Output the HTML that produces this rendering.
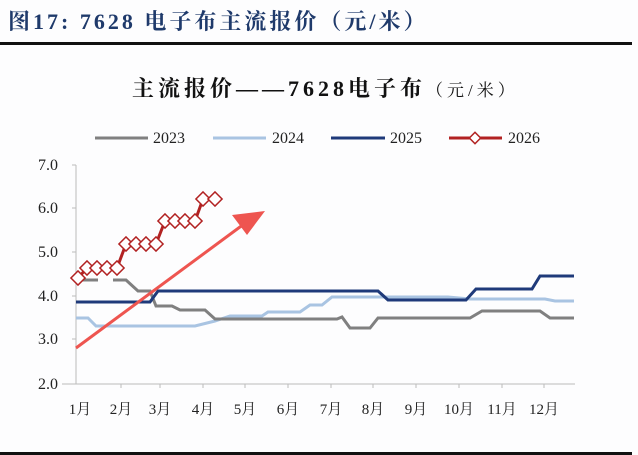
<!DOCTYPE html>
<html><head><meta charset="utf-8"><style>
body{margin:0;background:#fff;}
svg{display:block;}
</style></head><body>
<svg width="638" height="455" viewBox="0 0 638 455" xmlns="http://www.w3.org/2000/svg">
<rect width="638" height="455" fill="#fdfdfe"/>
<text x="8" y="29" font-family="Liberation Serif, 'Noto Serif CJK SC', serif" font-size="22" font-weight="bold" fill="#1f3a6b" letter-spacing="3">图17:  7628 电子布主流报价（元/米）</text>
<rect x="0" y="42" width="632" height="3" fill="#111"/>
<text x="132" y="96" font-family="Liberation Serif, 'Noto Serif CJK SC', serif" font-size="22" font-weight="bold" fill="#111" letter-spacing="4">主流报价——7628电子布<tspan font-size="17" font-weight="normal">（元/米）</tspan></text>
<!-- legend -->
<g font-family="Liberation Serif, serif" font-size="16" fill="#222">
<line x1="95" y1="138" x2="148" y2="138" stroke="#808080" stroke-width="3"/><text x="153" y="143">2023</text>
<line x1="213" y1="138" x2="266" y2="138" stroke="#a9c4e2" stroke-width="3"/><text x="272" y="143">2024</text>
<line x1="331" y1="138" x2="385" y2="138" stroke="#1f3a7a" stroke-width="3"/><text x="390" y="143">2025</text>
<line x1="449" y1="138" x2="502" y2="138" stroke="#b22222" stroke-width="3"/><rect x="471" y="134" width="8" height="8" transform="rotate(45 475 138)" fill="#fff" stroke="#b22222" stroke-width="1.5"/><text x="508" y="143">2026</text>
</g>
<!-- axes -->
<line x1="76" y1="165" x2="76" y2="384" stroke="#bbb" stroke-width="1"/>
<line x1="62" y1="384" x2="575" y2="384" stroke="#bbb" stroke-width="1"/>
<g stroke="#bbb"><line x1="72" y1="165" x2="76" y2="165"/><line x1="72" y1="208" x2="76" y2="208"/><line x1="72" y1="252" x2="76" y2="252"/><line x1="72" y1="296" x2="76" y2="296"/><line x1="72" y1="339" x2="76" y2="339"/>
<line x1="121" y1="384" x2="121" y2="388"/><line x1="160" y1="384" x2="160" y2="388"/><line x1="203" y1="384" x2="203" y2="388"/><line x1="245" y1="384" x2="245" y2="388"/><line x1="288" y1="384" x2="288" y2="388"/><line x1="331" y1="384" x2="331" y2="388"/><line x1="373" y1="384" x2="373" y2="388"/><line x1="416" y1="384" x2="416" y2="388"/><line x1="459" y1="384" x2="459" y2="388"/><line x1="502" y1="384" x2="502" y2="388"/><line x1="544" y1="384" x2="544" y2="388"/></g>
<g font-family="Liberation Serif, serif" font-size="16" fill="#222" text-anchor="end">
<text x="58" y="170">7.0</text><text x="58" y="213">6.0</text><text x="58" y="257">5.0</text><text x="58" y="301">4.0</text><text x="58" y="344">3.0</text><text x="58" y="389">2.0</text></g>
<g font-family="Liberation Serif, 'Noto Serif CJK SC', serif" font-size="15" fill="#222" text-anchor="middle">
<text x="80" y="414">1月</text><text x="121" y="414">2月</text><text x="160" y="414">3月</text><text x="203" y="414">4月</text><text x="245" y="414">5月</text><text x="288" y="414">6月</text><text x="331" y="414">7月</text><text x="373" y="414">8月</text><text x="416" y="414">9月</text><text x="459" y="414">10月</text><text x="502" y="414">11月</text><text x="544" y="414">12月</text></g>
<!-- 2024 -->
<polyline fill="none" stroke="#a9c4e2" stroke-width="3" points="76,318 88,318 96,326 195,326 215,321 230,316 262,316 268,312 300,312 310,305 322,305 332,297 448,297 470,299 545,299 555,301 574,301"/>
<!-- 2023 -->
<polyline fill="none" stroke="#808080" stroke-width="3" points="80,280 98,280"/>
<polyline fill="none" stroke="#808080" stroke-width="3" points="113,280 126,280 138,291 150,291 156,306 172,306 180,310 205,310 215,319 337,319 342,317 350,328 370,328 378,318 470,318 482,311 540,311 550,318 574,318"/>
<!-- 2025 -->
<polyline fill="none" stroke="#1f3a7a" stroke-width="3" points="76,302 150,302 158,291 378,291 388,300 466,300 476,289 532,289 540,276 574,276"/>
<!-- 2026 -->
<polyline fill="none" stroke="#b22222" stroke-width="3" points="78,278 87,268 117,268 126,244 156,244 165,221 195,221 203,199 215,199"/>
<g fill="#fff" stroke="#b22222" stroke-width="1.5">
<rect x="73" y="273" width="10" height="10" transform="rotate(45 78 278)"/>
<rect x="82" y="263" width="10" height="10" transform="rotate(45 87 268)"/>
<rect x="92" y="263" width="10" height="10" transform="rotate(45 97 268)"/>
<rect x="102" y="263" width="10" height="10" transform="rotate(45 107 268)"/>
<rect x="112" y="263" width="10" height="10" transform="rotate(45 117 268)"/>
<rect x="121" y="239" width="10" height="10" transform="rotate(45 126 244)"/>
<rect x="131" y="239" width="10" height="10" transform="rotate(45 136 244)"/>
<rect x="141" y="239" width="10" height="10" transform="rotate(45 146 244)"/>
<rect x="151" y="239" width="10" height="10" transform="rotate(45 156 244)"/>
<rect x="160" y="216" width="10" height="10" transform="rotate(45 165 221)"/>
<rect x="170" y="216" width="10" height="10" transform="rotate(45 175 221)"/>
<rect x="180" y="216" width="10" height="10" transform="rotate(45 185 221)"/>
<rect x="190" y="216" width="10" height="10" transform="rotate(45 195 221)"/>
<rect x="198" y="194" width="10" height="10" transform="rotate(45 203 199)"/>
<rect x="210" y="194" width="10" height="10" transform="rotate(45 215 199)"/>
</g>
<!-- arrow -->
<line x1="76" y1="348" x2="244" y2="224" stroke="#ee5550" stroke-width="3"/>
<polygon points="265,211 232,215 247,235" fill="#ee5550"/>
<rect x="0" y="452" width="632" height="3" fill="#111"/>
</svg>
</body></html>
